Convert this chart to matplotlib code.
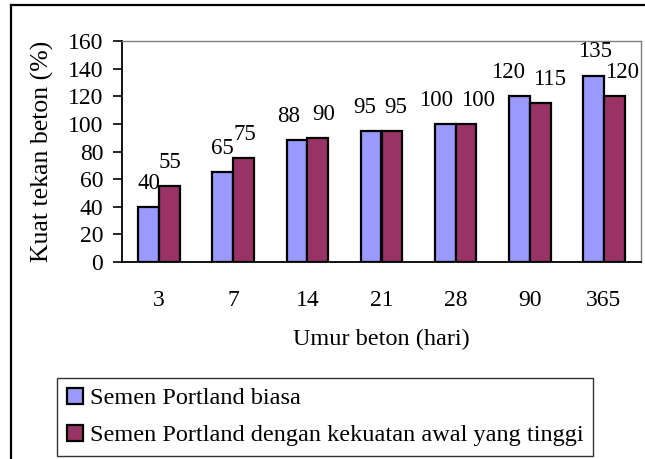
import numpy as np
import matplotlib
matplotlib.use("Agg")
import matplotlib.pyplot as plt
from matplotlib.lines import Line2D

# Data
umur = ['3', '7', '14', '21', '28', '90', '365']
biasa = [40, 65, 88, 95, 100, 120, 135]
awal_tinggi = [55, 75, 90, 95, 100, 115, 120]
series_names = ['Semen Portland biasa',
                'Semen Portland dengan kekuatan awal yang tinggi']
yticks = [0, 20, 40, 60, 80, 100, 120, 140, 160]

# small sideways nudges (px) of the value labels, as placed in the original
biasa_dx = [0, 0, -8, -6, -9, -11, 1]
awal_dx = [0, 1, 6, 4, 12, 9, 8]

plt.rcParams['font.family'] = ['Liberation Serif', 'DejaVu Serif']
plt.rcParams['font.size'] = 17

W, H = 645, 459
fig = plt.figure(figsize=(W / 100, H / 100), dpi=100)
fig.patch.set_facecolor('white')

# plot area in pixel coords
left, right, top, bottom = 122, 641, 41, 262
ax = fig.add_axes([left / W, 1 - bottom / H, (right - left) / W, (bottom - top) / H])

x = np.arange(len(umur))
bw = 0.28
b1 = ax.bar(x - bw / 2, biasa, bw, color='#9999FF', edgecolor='black', linewidth=1.6,
            label=series_names[0])
b2 = ax.bar(x + bw / 2, awal_tinggi, bw, color='#993366', edgecolor='black', linewidth=1.6,
            label=series_names[1])

# value labels above the bars
for bars, dxs in ((b1, biasa_dx), (b2, awal_dx)):
    for r, dx in zip(bars, dxs):
        ax.annotate(f"{int(r.get_height())}", (r.get_x() + r.get_width() / 2, r.get_height()),
                    xytext=(dx * 0.72, 17), textcoords='offset points',
                    ha='center', va='center', fontsize=16.5)

ax.set_xlim(-0.5, len(umur) - 0.5)
ax.set_ylim(0, 160)
ax.set_yticks(yticks)
ax.set_xticks(x)
ax.set_xticklabels(umur)
ax.tick_params(axis='x', length=0, pad=20)
ax.tick_params(axis='y', length=6.5, width=1.2, direction='out', pad=7)

for s in ('left', 'bottom'):
    ax.spines[s].set_color('black')
    ax.spines[s].set_linewidth(1.3)
for s in ('top', 'right'):
    ax.spines[s].set_color('#808080')
    ax.spines[s].set_linewidth(1.0)

ax.set_ylabel('Kuat tekan beton (%)', fontsize=18.5, labelpad=10)
ax.set_xlabel('Umur beton (hari)', fontsize=17.5, labelpad=13)

leg = fig.legend(handles=[b1, b2], loc='upper left', fontsize=17.5,
                 bbox_to_anchor=(57 / W, 1 - 378 / H), frameon=True, fancybox=False,
                 handlelength=0.66, handleheight=0.66, handletextpad=0.3,
                 borderpad=0.4, labelspacing=0.62, borderaxespad=0)
leg.get_frame().set_edgecolor('black')
leg.get_frame().set_linewidth(1.0)

# outer border (left and top edges visible)
fig.add_artist(Line2D([11 / W, 11 / W], [0, 1 - 5 / H], transform=fig.transFigure,
                      color='black', linewidth=1.6))
fig.add_artist(Line2D([11 / W, 1], [1 - 5 / H, 1 - 5 / H], transform=fig.transFigure,
                      color='black', linewidth=1.6))

fig.savefig('out.png', dpi=100)
